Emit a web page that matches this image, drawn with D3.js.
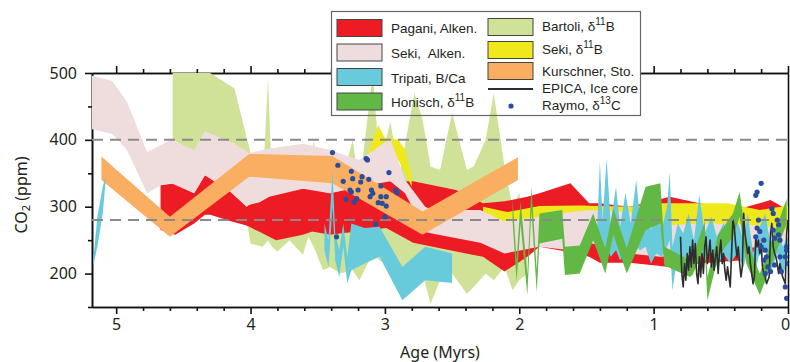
<!DOCTYPE html>
<html>
<head>
<meta charset="utf-8">
<script src="https://cdn.jsdelivr.net/npm/d3@7"></script>
<style>
body { margin: 0; background: #fff; }
svg { display: block; font-family: "Noto Sans", sans-serif; }
</style>
</head>
<body>
<div id="chart"></div>
<script>
// tick labels
const ageTicks = [5, 4, 3, 2, 1, 0];
const co2Ticks = [200, 300, 400, 500];
const refLevels = [400, 280];

// bands: [age (Myr), low ppm, high ppm]; null = gap
const bartoli = [
  [4.58, 400, 505], [4.41, 382, 505], [4.34, 400, 505], [4.12, 395, 477], [4.00, 245, 380],
  [3.91, 240, 330], [3.87, 250, 492], [3.84, 240, 330], [3.80, 233, 300], [3.71, 250, 300],
  [3.61, 228, 300], [3.57, 255, 310], [3.53, 240, 400], [3.46, 205, 300], [3.41, 210, 320],
  [3.33, 200, 330], [3.24, 205, 400], [3.19, 190, 330], [3.09, 230, 500], [3.04, 220, 360],
  [2.96, 210, 427], [2.89, 200, 350], [2.78, 195, 470], [2.72, 200, 430], [2.66, 155, 360],
  [2.59, 190, 355], [2.50, 200, 440], [2.39, 170, 355], [2.34, 180, 360], [2.25, 200, 400],
  [2.19, 190, 470], [2.11, 210, 360], [2.05, 175, 300], [2.00, 190, 320], [1.94, 200, 250]
];
const pagani = [
  [4.67, 265, 332], [4.56, 258, 335], [4.42, 275, 320], [4.34, 288, 347], [4.30, 288, 345],
  [4.14, 278, 322], [4.03, 272, 300], [4.01, 270, 303], [3.93, 262, 307], [3.81, 250, 325],
  [3.61, 258, 327], [3.54, 263, 327], [3.41, 258, 320], [2.99, 268, 338], [2.79, 246, 338],
  [2.47, 233, 325], [2.27, 225, 305], [2.11, 203, 308], [1.94, 225, 315], [1.85, 240, 320],
  [1.62, 232, 335], [1.48, 225, 305], [1.40, 216, 305], [1.18, 216, 300], [0.88, 210, 315],
  [0.66, 215, 305], [0.34, 220, 298], [0.13, 250, 310], [0.00, 225, 295]
];
const sekiBoron = [
  [3.14, 362, 372], [3.05, 385, 422], [3.00, 380, 403], [2.90, 370, 400], [2.85, 350, 385],
  [2.80, 330, 345], null,
  [2.27, 280, 300], [2.09, 270, 292], [1.85, 270, 301], [1.55, 275, 302], [1.18, 275, 300],
  [0.95, 262, 305], [0.45, 262, 305], [0.21, 262, 295], [0.00, 258, 302]
];
const sekiAlken = [
  [5.18, 416, 496], [5.03, 409, 488], [4.92, 385, 457], [4.77, 320, 382], [4.67, 332, 392],
  [4.59, 335, 400], [4.42, 320, 385], [4.34, 347, 413], [4.15, 322, 397], [4.03, 300, 383],
  [4.01, 303, 380], [3.93, 307, 384], [3.86, 315, 387], [3.61, 327, 394], [3.41, 320, 385],
  [3.19, 330, 370], [2.96, 338, 402], [2.85, 320, 340], [2.70, 262, 300], [2.65, 260, 295],
  [2.29, 246, 295], [2.11, 230, 278], [1.85, 240, 285], [1.62, 235, 292], [1.48, 246, 295],
  [1.18, 230, 292], [0.95, 225, 272], [0.66, 228, 275], [0.45, 235, 275], [0.21, 240, 272],
  [0.00, 225, 265]
];
const kurschner = [
  [5.11, 340, 375], [4.60, 255, 285], [4.01, 345, 379], [3.39, 335, 376], [2.72, 258, 293],
  [2.01, 340, 374]
];
const tripati = [
  [5.17, 212, 222], [5.14, 240, 285], [5.10, 290, 330], [5.08, 335, 345], null,
  [3.45, 235, 275], [3.42, 210, 250], [3.39, 300, 355], [3.37, 220, 260], [3.34, 195, 235],
  [3.31, 240, 275], [3.28, 185, 225], [3.25, 205, 275], [3.15, 215, 268], [3.04, 225, 270],
  [2.87, 160, 210], [2.70, 190, 240], [2.50, 186, 230], null,
  [1.42, 240, 270], [1.40, 245, 368], [1.38, 235, 280], [1.35, 240, 372], [1.32, 225, 275],
  [1.28, 235, 330], [1.25, 220, 270], [1.21, 230, 320], [1.17, 230, 275], [1.13, 240, 340],
  [1.10, 235, 280], [1.06, 240, 300], [1.02, 215, 265], [0.98, 230, 290], [0.94, 225, 265],
  [0.90, 240, 300], [0.88, 250, 352], [0.86, 175, 240], [0.82, 230, 275], [0.78, 210, 260],
  [0.74, 230, 290], [0.70, 205, 250], [0.66, 240, 318], [0.62, 220, 260], [0.57, 235, 285],
  [0.53, 210, 255], [0.48, 230, 275], [0.43, 215, 255], [0.38, 230, 280], [0.33, 210, 250],
  [0.30, 235, 290], [0.26, 180, 230], [0.22, 225, 265], [0.17, 235, 290], [0.13, 200, 245],
  [0.08, 230, 275], [0.04, 195, 240], [0.00, 225, 255]
];
const honisch = [
  [2.05, 280, 312], [2.02, 188, 220], [1.99, 275, 308], [1.94, 168, 198], [1.91, 295, 330],
  [1.87, 172, 205], [1.85, 245, 290], [1.68, 252, 295], [1.66, 198, 240], [1.55, 200, 242],
  [1.45, 250, 290], [1.36, 200, 238], [1.30, 258, 297], [1.20, 200, 238], [1.06, 265, 330],
  [0.95, 275, 335], [0.92, 212, 240], [0.73, 195, 220], [0.71, 198, 225], [0.62, 240, 278],
  [0.60, 160, 195], [0.52, 225, 258], [0.41, 255, 290], [0.36, 285, 322], [0.31, 215, 250],
  [0.21, 168, 200], [0.11, 220, 255], [0.01, 275, 312]
];

// EPICA ice core: [age, ppm]
const epica = [
  [0.80, 255], [0.79, 200], [0.78, 180], [0.77, 215], [0.76, 190], [0.75, 230], [0.74, 205],
  [0.73, 240], [0.72, 210], [0.71, 250], [0.70, 215], [0.69, 245], [0.68, 200], [0.67, 185],
  [0.66, 225], [0.65, 195], [0.64, 230], [0.63, 200], [0.62, 240], [0.61, 255], [0.60, 215],
  [0.59, 230], [0.58, 250], [0.57, 210], [0.56, 235], [0.55, 205], [0.54, 225], [0.53, 240],
  [0.52, 200], [0.51, 230], [0.50, 250], [0.49, 215], [0.48, 230], [0.47, 205], [0.46, 190],
  [0.45, 210], [0.44, 195], [0.43, 180], [0.42, 230], [0.41, 280], [0.40, 270], [0.39, 245],
  [0.38, 225], [0.37, 240], [0.36, 215], [0.35, 195], [0.34, 210], [0.33, 290], [0.32, 260],
  [0.31, 245], [0.30, 230], [0.29, 240], [0.28, 215], [0.27, 200], [0.26, 185], [0.25, 195],
  [0.24, 255], [0.23, 240], [0.22, 250], [0.21, 230], [0.20, 245], [0.19, 210], [0.18, 200],
  [0.17, 195], [0.16, 185], [0.15, 190], [0.14, 195], [0.13, 260], [0.12, 275], [0.11, 240],
  [0.10, 230], [0.09, 225], [0.08, 215], [0.07, 200], [0.06, 215], [0.05, 205], [0.04, 195],
  [0.03, 190], [0.02, 185], [0.01, 260], [0.00, 280]
];

// Raymo d13C points: [age, ppm]
const raymo = [
  [3.39, 381], [3.35, 362], [3.25, 353], [3.31, 338], [3.24, 342], [3.17, 345], [3.18, 337],
  [3.12, 341], [3.14, 372], [3.13, 370], [2.97, 351], [3.03, 331], [3.26, 325], [3.25, 322],
  [3.20, 325], [3.10, 325], [3.09, 320], [3.11, 315], [3.03, 315], [2.99, 315], [2.92, 325],
  [2.91, 321], [3.29, 311], [3.23, 307], [3.21, 312], [3.05, 306], [3.02, 305], [2.99, 301],
  [3.00, 285], [3.07, 274], [3.36, 255],
  [0.20, 335], [0.23, 322], [0.24, 317], [0.12, 297], [0.11, 290], [0.08, 280], [0.07, 273],
  [0.22, 280], [0.23, 268], [0.21, 263], [0.11, 265], [0.07, 258], [0.10, 253], [0.06, 250],
  [0.18, 250], [0.20, 240], [0.17, 235], [0.16, 225], [0.18, 220], [0.15, 210], [0.17, 200],
  [0.10, 213], [0.06, 225], [0.02, 225], [0.05, 203], [0.01, 235], [0.00, 215], [0.02, 180],
  [0.01, 163], [0.01, 240], [0.13, 203], [0.24, 255]
];

const legendLabels = [
  "Pagani, Alken.", "Seki,  Alken.", "Tripati, B/Ca", "Honisch, δ^11B",
  "Bartoli, δ^11B", "Seki, δ^11B", "Kurschner, Sto.", "EPICA, Ice core", "Raymo, δ^13C"
];

const colors = {
  pagani: "#ed1c24", sekiAlken: "#efdcdc", tripati: "#68cbdc", honisch: "#62b845",
  bartoli: "#cfe298", sekiBoron: "#efe91c", kurschner: "#f9ae62", epica: "#2d2d2d", raymo: "#2b4c9e"
};

const W = 790, H = 362;
const plotL = 92, plotR = 788, plotT = 73, plotB = 307;

const svg = d3.select("#chart").append("svg")
    .attr("width", W)
    .attr("height", H);

const x = d3.scaleLinear().domain([5.18, 0]).range([plotL, plotR]);
const y = d3.scaleLinear().domain([150, 500]).range([plotB, plotT]);

const minorAge = d3.range(26).map(i => i / 5).filter(v => !ageTicks.includes(Math.round(v * 10) / 10));
const minorCo2 = [150, 250, 350, 450];

function styleAxis(g) {
    g.selectAll("path, line").attr("stroke", "#111").attr("stroke-width", 1.6);
    g.selectAll("text").attr("fill", "#231f20").attr("font-size", 16)
        .attr("font-family", "'Noto Sans', sans-serif");
}

// bottom axis
svg.append("g").attr("transform", `translate(0,${plotB})`)
    .call(d3.axisBottom(x).tickValues(minorAge).tickSize(4).tickFormat("").tickSizeOuter(0))
    .call(styleAxis);
svg.append("g").attr("transform", `translate(0,${plotB})`)
    .call(d3.axisBottom(x).tickValues(ageTicks).tickSize(7).tickPadding(5).tickSizeOuter(0).tickFormat(d3.format("d")))
    .call(styleAxis)
    .call(g => g.selectAll(".tick text").filter(d => d === 0).attr("dx", -3));

// top axis
svg.append("g").attr("transform", `translate(0,${plotT})`)
    .call(d3.axisTop(x).tickValues(minorAge).tickSize(4).tickFormat("").tickSizeOuter(0))
    .call(styleAxis);
svg.append("g").attr("transform", `translate(0,${plotT})`)
    .call(d3.axisTop(x).tickValues(ageTicks).tickSize(7).tickFormat("").tickSizeOuter(0))
    .call(styleAxis);

// left axis
svg.append("g").attr("transform", `translate(${plotL},0)`)
    .call(d3.axisLeft(y).tickValues(minorCo2).tickSize(4).tickFormat("").tickSizeOuter(0))
    .call(styleAxis);
svg.append("g").attr("transform", `translate(${plotL},0)`)
    .call(d3.axisLeft(y).tickValues(co2Ticks).tickSize(7).tickPadding(8).tickSizeOuter(0))
    .call(styleAxis);

// right frame
svg.append("g").attr("transform", `translate(${plotR},0)`)
    .call(d3.axisRight(y).tickValues([]).tickSizeOuter(0))
    .call(styleAxis);

// axis titles
const yTitle = svg.append("text")
    .attr("transform", "translate(21,195) rotate(-90)")
    .attr("text-anchor", "middle")
    .attr("dy", "0.35em")
    .attr("font-size", 16)
    .attr("fill", "#231f20");
yTitle.append("tspan").text("CO");
yTitle.append("tspan").attr("font-size", 11).attr("dy", 3).text("2");
yTitle.append("tspan").attr("dy", -3).text(" (ppm)");

svg.append("text")
    .attr("x", (plotL + plotR) / 2)
    .attr("y", 352)
    .attr("dy", "0.35em")
    .attr("text-anchor", "middle")
    .attr("font-size", 16)
    .attr("fill", "#231f20")
    .text("Age (Myrs)");

// legend box (background first, data may show through)
const lg = { x: 331.5, y: 11.5, w: 309, h: 104 };
svg.append("rect")
    .attr("x", lg.x).attr("y", lg.y).attr("width", lg.w).attr("height", lg.h)
    .attr("fill", "#fff");

// data layer
svg.append("clipPath").attr("id", "plot-clip")
    .append("rect").attr("x", plotL).attr("y", plotT).attr("width", plotR - plotL).attr("height", plotB - plotT);

const plot = svg.append("g").attr("clip-path", "url(#plot-clip)");

const band = d3.area()
    .defined(d => d !== null)
    .x(d => x(d[0]))
    .y0(d => y(d[1]))
    .y1(d => y(d[2]));

[
    [bartoli, colors.bartoli],
    [pagani, colors.pagani],
    [sekiBoron, colors.sekiBoron],
    [sekiAlken, colors.sekiAlken],
    [kurschner, colors.kurschner],
    [tripati, colors.tripati],
    [honisch, colors.honisch]
].forEach(([data, fill]) => {
    plot.append("path").datum(data).attr("d", band).attr("fill", fill);
});

plot.append("path")
    .datum(epica)
    .attr("fill", "none")
    .attr("stroke", colors.epica)
    .attr("stroke-width", 1.6)
    .attr("stroke-linejoin", "round")
    .attr("d", d3.line().x(d => x(d[0])).y(d => y(d[1])));

plot.selectAll(".ref")
    .data(refLevels)
    .enter().append("line")
    .attr("x1", plotL).attr("x2", plotR)
    .attr("y1", d => y(d)).attr("y2", d => y(d))
    .attr("stroke", "#8a8a8a")
    .attr("stroke-width", 2)
    .attr("stroke-dasharray", "11,7");

plot.selectAll(".dot")
    .data(raymo)
    .enter().append("circle")
    .attr("cx", d => x(d[0]))
    .attr("cy", d => y(d[1]))
    .attr("r", 2.6)
    .attr("fill", colors.raymo);

// legend content
svg.append("rect")
    .attr("x", lg.x).attr("y", lg.y).attr("width", lg.w).attr("height", lg.h)
    .attr("fill", "none").attr("stroke", "#666").attr("stroke-width", 1.2);

const legendFills = [colors.pagani, colors.sekiAlken, colors.tripati, colors.honisch,
    colors.bartoli, colors.sekiBoron, colors.kurschner];
const swatchTop = [19.5, 44, 68.5, 93, 18.5, 41.5, 62.5];
const textMid = [28.3, 52.5, 77.5, 101.7, 25.5, 48.5, 70.5, 88, 105];

legendFills.forEach((fill, i) => {
    svg.append("rect")
        .attr("x", i < 4 ? 337 : 488).attr("y", swatchTop[i])
        .attr("width", 45).attr("height", 17)
        .attr("fill", fill).attr("stroke", "#444").attr("stroke-width", 1);
});

svg.append("line")
    .attr("x1", 488).attr("x2", 533).attr("y1", 89).attr("y2", 89)
    .attr("stroke", colors.epica).attr("stroke-width", 2);
svg.append("circle").attr("cx", 511).attr("cy", 106).attr("r", 2.6).attr("fill", colors.raymo);

legendLabels.forEach((label, i) => {
    const t = svg.append("text")
        .attr("x", i < 4 ? 391 : 542)
        .attr("y", textMid[i] + 5)
        .attr("font-family", "'Liberation Sans', Arial, sans-serif")
        .attr("font-size", 13.5)
        .attr("fill", "#231f20")
        .style("white-space", "pre");
    const parts = label.split(/\^(\d+)/);
    parts.forEach((p, j) => {
        if (j % 2 === 1) {
            t.append("tspan").attr("font-size", 10).attr("dy", -6).text(p);
        } else if (p) {
            const s = t.append("tspan").text(p);
            if (j > 0) s.attr("dy", 6);
        }
    });
});
</script>
</body>
</html>
